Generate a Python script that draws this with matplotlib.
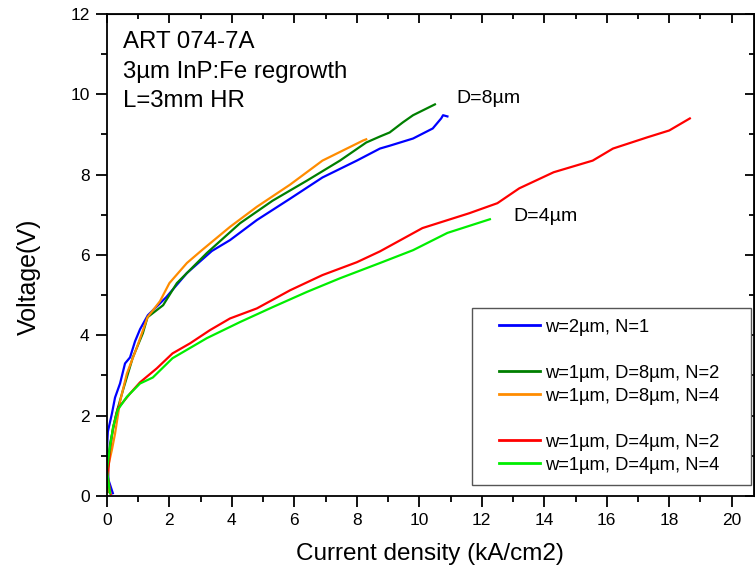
import matplotlib
matplotlib.use("Agg")
import matplotlib.pyplot as plt
from matplotlib.lines import Line2D
from matplotlib.legend_handler import HandlerLine2D
from matplotlib.ticker import MultipleLocator

plt.rcParams['font.family'] = ['Liberation Sans', 'DejaVu Sans']

# data
blue_x = [0.19, 0.05, 0.0, 0.03, 0.16, 0.26, 0.42, 0.58, 0.74, 0.9, 1.06, 1.31, 1.9, 2.56, 3.36,
          3.94, 4.8, 5.86, 6.9, 8.0, 8.74, 9.05, 9.8, 10.43, 10.7, 10.76, 10.9]
blue_y = [0.07, 0.4, 1.15, 1.6, 2.05, 2.45, 2.8, 3.3, 3.45, 3.85, 4.15, 4.5, 4.95, 5.55, 6.1,
          6.37, 6.87, 7.4, 7.93, 8.35, 8.65, 8.72, 8.9, 9.15, 9.4, 9.48, 9.45]

dgreen_x = [0.05, 0.0, 0.1, 0.3, 0.52, 0.83, 1.15, 1.3, 1.8, 2.24, 3.2, 4.26, 5.3, 6.4, 7.46,
            8.3, 8.74, 9.05, 9.47, 9.8, 10.5]
dgreen_y = [0.1, 0.6, 1.3, 2.05, 2.65, 3.45, 4.05, 4.45, 4.75, 5.3, 6.05, 6.79, 7.35, 7.85,
            8.35, 8.8, 8.95, 9.05, 9.3, 9.48, 9.75]

orange_x = [0.08, 0.0, 0.16, 0.26, 0.42, 0.64, 0.96, 1.3, 1.7, 2.0, 2.56, 3.04, 3.94, 4.8, 5.86,
            6.9, 8.2, 8.3]
orange_y = [0.1, 0.6, 1.15, 1.55, 2.35, 3.05, 3.7, 4.45, 4.85, 5.3, 5.8, 6.12, 6.7, 7.2, 7.75,
            8.35, 8.85, 8.88]

red_x = [0.12, 0.03, 0.1, 0.2, 0.35, 0.74, 1.06, 1.6, 2.1, 2.66, 3.3, 3.94, 4.8, 5.86, 6.9,
         8.0, 8.74, 10.1, 11.6, 12.5, 13.2, 14.3, 15.55, 16.2, 17.3, 18.0, 18.66]
red_y = [0.05, 0.47, 1.15, 1.72, 2.18, 2.55, 2.83, 3.18, 3.55, 3.8, 4.13, 4.42, 4.67, 5.12,
         5.5, 5.82, 6.09, 6.67, 7.04, 7.29, 7.66, 8.06, 8.35, 8.65, 8.93, 9.1, 9.4]

lgreen_x = [0.1, 0.0, 0.1, 0.2, 0.35, 0.64, 1.06, 1.47, 2.1, 3.2, 4.26, 5.3, 6.4, 7.46, 8.74,
            9.8, 10.9, 12.26]
lgreen_y = [0.07, 0.65, 1.22, 1.72, 2.15, 2.47, 2.8, 2.95, 3.43, 3.93, 4.33, 4.7, 5.08, 5.42,
            5.8, 6.12, 6.55, 6.89]

info_lines = ['ART 074-7A', '3µm InP:Fe regrowth', 'L=3mm HR']
info_y = [11.15, 10.41, 9.68]

fig = plt.figure(figsize=(7.55, 5.76), dpi=100)
ax = fig.add_axes([0.1416, 0.1389, 0.8565, 0.8368])

lw = 1.6
ax.plot(blue_x, blue_y, color='#0000ff', lw=lw)
ax.plot(dgreen_x, dgreen_y, color='#007f00', lw=lw)
ax.plot(orange_x, orange_y, color='#ff8c00', lw=lw)
ax.plot(red_x, red_y, color='#ff0000', lw=lw)
ax.plot(lgreen_x, lgreen_y, color='#00ee00', lw=lw)

ax.set_xlim(0, 20.7)
ax.set_ylim(0, 12)
ax.xaxis.set_major_locator(MultipleLocator(2))
ax.xaxis.set_minor_locator(MultipleLocator(1))
ax.yaxis.set_major_locator(MultipleLocator(2))
ax.yaxis.set_minor_locator(MultipleLocator(1))
ax.tick_params(which='both', direction='out', top=False, right=False, labelsize=12.5, width=1.3)
ax.tick_params(which='major', length=8)
ax.tick_params(which='minor', length=4.3)
ax.tick_params(axis='y', pad=4.5)
ax.tick_params(axis='x', pad=4)
for s in ax.spines.values():
    s.set_linewidth(1.3)

# inward ticks on top / right
sec_x = ax.secondary_xaxis('top')
sec_x.xaxis.set_major_locator(MultipleLocator(2))
sec_x.xaxis.set_minor_locator(MultipleLocator(1))
sec_x.tick_params(which='both', direction='in', labeltop=False, width=1.3)
sec_x.tick_params(which='major', length=6.5)
sec_x.tick_params(which='minor', length=3.6)
sec_y = ax.secondary_yaxis('right')
sec_y.yaxis.set_major_locator(MultipleLocator(2))
sec_y.yaxis.set_minor_locator(MultipleLocator(1))
sec_y.tick_params(which='both', direction='in', labelright=False, width=1.3)
sec_y.tick_params(which='major', length=6.5)
sec_y.tick_params(which='minor', length=3.6)

ax.set_xlabel('Current density (kA/cm2)', fontsize=17.5, labelpad=11)
ax.set_ylabel('Voltage(V)', fontsize=18, labelpad=21)
ax.yaxis.label.set_y(0.455)

for line, yy in zip(info_lines, info_y):
    ax.text(0.5, yy, line, fontsize=17.3, va='baseline', ha='left')
ax.text(11.2, 9.9, 'D=8µm', fontsize=14, va='center')
ax.text(13.0, 6.97, 'D=4µm', fontsize=14, va='center')


class PadHandler(HandlerLine2D):
    # leaves a gap on the left of each legend line
    def get_xdata(self, legend, xdescent, ydescent, width, height, fontsize):
        xd, xm = super().get_xdata(legend, xdescent, ydescent, width, height, fontsize)
        return [xd[0] + 11.5, xd[1]], xm


blank = Line2D([], [], color='none')
handles = [Line2D([], [], color='#0000ff', lw=2), blank,
           Line2D([], [], color='#007f00', lw=2), Line2D([], [], color='#ff8c00', lw=2), blank,
           Line2D([], [], color='#ff0000', lw=2), Line2D([], [], color='#00ee00', lw=2)]
labels = ['w=2µm, N=1', ' ', 'w=1µm, D=8µm, N=2', 'w=1µm, D=8µm, N=4', ' ',
          'w=1µm, D=4µm, N=2', 'w=1µm, D=4µm, N=4']
leg = ax.legend(handles, labels, loc='lower left', bbox_to_anchor=(0.564, 0.023, 0.432, 0.365),
                mode='expand', fontsize=13.2, fancybox=False, framealpha=1, edgecolor='#555555',
                handlelength=3.13, handletextpad=0.3, labelspacing=0.33, borderpad=0.6,
                borderaxespad=0, handler_map={Line2D: PadHandler()})
leg.get_frame().set_linewidth(1.0)

fig.savefig('out.png', dpi=100)
